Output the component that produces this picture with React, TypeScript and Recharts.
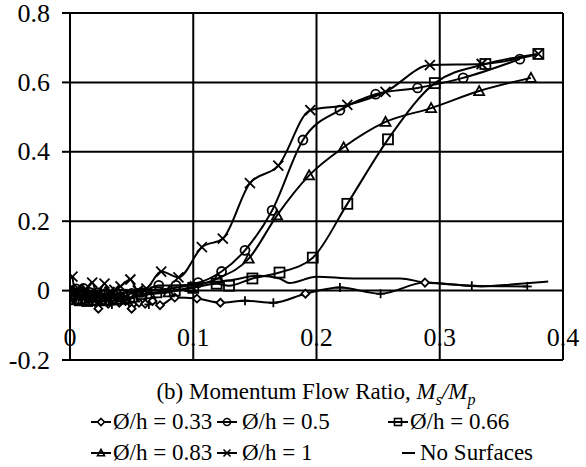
import React from 'react';
import { LineChart, Line, XAxis, YAxis, CartesianGrid, Legend } from 'recharts';

const FONT = '"Liberation Serif", "DejaVu Serif", serif';

const xTicks = [0, 0.1, 0.2, 0.3, 0.4];
const yTicks = [-0.2, 0, 0.2, 0.4, 0.6, 0.8];
const xTickLabels = ['0', '0.1', '0.2', '0.3', '0.4'];
const yTickLabels = ['-0.2', '0', '0.2', '0.4', '0.6', '0.8'];

// Ø/h = 0.33 : diamond-marked points and plus-marked points on the same curve
const s033Diamonds: [number, number][] = [
  [0.001, -0.008], [0.004, -0.02], [0.008, -0.012], [0.012, -0.028], [0.016, -0.018],
  [0.02, -0.032], [0.023, -0.052], [0.027, -0.03], [0.031, -0.038], [0.036, -0.028],
  [0.04, -0.035], [0.045, -0.03], [0.05, -0.052], [0.056, -0.035], [0.061, -0.038],
  [0.067, -0.03], [0.073, -0.042], [0.085, -0.02], [0.103, -0.023], [0.122, -0.035],
  [0.191, -0.009], [0.288, 0.023],
];
const s033Plus: [number, number][] = [
  [0.034, -0.04], [0.064, -0.04], [0.142, -0.029], [0.165, -0.035], [0.219, 0.009],
  [0.252, -0.009], [0.326, 0.014], [0.371, 0.012],
];
const s05: [number, number][] = [
  [0.001, 0.0], [0.003, -0.01], [0.005, 0.005], [0.007, -0.012], [0.009, -0.004],
  [0.011, 0.006], [0.013, -0.015], [0.016, -0.005], [0.019, -0.018], [0.022, -0.006],
  [0.025, -0.02], [0.029, -0.008], [0.033, -0.016], [0.038, -0.01], [0.044, -0.018],
  [0.05, -0.008], [0.058, -0.005], [0.072, 0.015], [0.086, 0.015], [0.104, 0.023],
  [0.123, 0.055], [0.142, 0.116], [0.164, 0.231], [0.189, 0.434], [0.219, 0.52],
  [0.248, 0.566], [0.282, 0.584], [0.319, 0.613], [0.365, 0.667],
];
const s066: [number, number][] = [
  [0.001, -0.015], [0.003, -0.025], [0.005, -0.01], [0.008, -0.028], [0.011, -0.012],
  [0.014, -0.03], [0.017, -0.018], [0.02, -0.026], [0.024, -0.014], [0.028, -0.028],
  [0.032, -0.015], [0.037, -0.024], [0.042, -0.012], [0.048, -0.02], [0.058, -0.01],
  [0.07, -0.005], [0.085, 0.0], [0.1, 0.008], [0.119, 0.02], [0.129, 0.014],
  [0.148, 0.035], [0.17, 0.052], [0.197, 0.095], [0.225, 0.25], [0.258, 0.436],
  [0.296, 0.598], [0.337, 0.653], [0.38, 0.682],
];
const s083: [number, number][] = [
  [0.001, -0.02], [0.003, -0.005], [0.006, -0.025], [0.009, -0.01], [0.012, -0.028],
  [0.015, -0.012], [0.018, -0.03], [0.022, -0.018], [0.026, -0.03], [0.03, -0.02],
  [0.035, -0.028], [0.04, -0.02], [0.046, -0.026], [0.052, -0.02], [0.065, -0.01],
  [0.08, -0.005], [0.098, 0.01], [0.12, 0.035], [0.145, 0.092], [0.168, 0.217],
  [0.194, 0.332], [0.222, 0.413], [0.256, 0.486], [0.293, 0.526], [0.332, 0.575],
  [0.374, 0.613],
];
const s1: [number, number][] = [
  [0.002, 0.04], [0.004, 0.0], [0.007, 0.005], [0.01, -0.008], [0.013, 0.004],
  [0.018, 0.023], [0.022, -0.01], [0.028, 0.02], [0.032, -0.004], [0.036, 0.002],
  [0.041, 0.012], [0.049, 0.032], [0.055, 0.0], [0.062, 0.006], [0.074, 0.055],
  [0.088, 0.038], [0.107, 0.125], [0.124, 0.15], [0.146, 0.31], [0.169, 0.36],
  [0.195, 0.52], [0.225, 0.535], [0.256, 0.573], [0.292, 0.65], [0.334, 0.653],
  [0.38, 0.682],
];
const sNone: [number, number][] = [
  [0.0, 0.0], [0.01, -0.01], [0.02, -0.005], [0.03, -0.012], [0.04, -0.008],
  [0.06, 0.0], [0.08, 0.005], [0.105, 0.02], [0.13, 0.03], [0.154, 0.043],
  [0.17, 0.035], [0.178, 0.022], [0.2, 0.04], [0.23, 0.035], [0.268, 0.035],
  [0.288, 0.023], [0.302, 0.02], [0.334, 0.012], [0.36, 0.018], [0.388, 0.026],
];

const seriesNames = ['Ø/h = 0.33', 'Ø/h = 0.5', 'Ø/h = 0.66', 'Ø/h = 0.83', 'Ø/h = 1', 'No Surfaces'];

const toPts = (a: [number, number][]) => a.map(([x, y]) => ({ x, y }));
const line033 = toPts([...s033Diamonds, ...s033Plus].sort((a, b) => a[0] - b[0]));

type Shape = 'diamond' | 'circle' | 'square' | 'triangle' | 'x' | 'plus';

const Marker = ({ shape, cx, cy, s, sw = 1.8 }: { shape: Shape; cx: number; cy: number; s: number; sw?: number }) => {
  const common = { fill: 'none', stroke: '#000', strokeWidth: sw };
  switch (shape) {
    case 'diamond':
      return <polygon points={`${cx},${cy - s} ${cx + s},${cy} ${cx},${cy + s} ${cx - s},${cy}`} {...common} fill="#fff" />;
    case 'circle':
      return <circle cx={cx} cy={cy} r={s} {...common} />;
    case 'square':
      return <rect x={cx - s} y={cy - s} width={2 * s} height={2 * s} {...common} />;
    case 'triangle':
      return <polygon points={`${cx},${cy - s} ${cx + s},${cy + s * 0.8} ${cx - s},${cy + s * 0.8}`} {...common} />;
    case 'x':
      return (
        <g {...common}>
          <line x1={cx - s} y1={cy - s} x2={cx + s} y2={cy + s} />
          <line x1={cx - s} y1={cy + s} x2={cx + s} y2={cy - s} />
        </g>
      );
    case 'plus':
      return (
        <g {...common}>
          <line x1={cx} y1={cy - s} x2={cx} y2={cy + s} />
          <line x1={cx - s} y1={cy} x2={cx + s} y2={cy} />
        </g>
      );
  }
  return null;
};

const dotOf = (shape: Shape, s: number) => (p: any) => {
  if (p.cx == null || p.cy == null) return <g key={`k-${p.index}`} />;
  return (
    <g key={`k-${shape}-${p.index}`}>
      <Marker shape={shape} cx={p.cx} cy={p.cy} s={s} />
    </g>
  );
};

const XTick = (props: any) => {
  const { x, y, payload } = props;
  const i = xTicks.indexOf(payload.value);
  return (
    <text x={x} y={y - 23} textAnchor="middle" dominantBaseline="central" fontSize={26} fontFamily={FONT} fill="#000">
      {i >= 0 ? xTickLabels[i] : payload.value}
    </text>
  );
};

const YTick = (props: any) => {
  const { x, y, payload } = props;
  const i = yTicks.indexOf(payload.value);
  return (
    <text x={x} y={y} textAnchor="end" dominantBaseline="central" fontSize={26} fontFamily={FONT} fill="#000">
      {i >= 0 ? yTickLabels[i] : payload.value}
    </text>
  );
};

const legendEntries: { name: string; shape: Shape | null; ml: number; tl: number; row: number }[] = [
  { name: seriesNames[0], shape: 'diamond', ml: 91, tl: 113, row: 0 },
  { name: seriesNames[1], shape: 'circle', ml: 217, tl: 242, row: 0 },
  { name: seriesNames[2], shape: 'square', ml: 388, tl: 410, row: 0 },
  { name: seriesNames[3], shape: 'triangle', ml: 91, tl: 113, row: 1 },
  { name: seriesNames[4], shape: 'x', ml: 217, tl: 242, row: 1 },
  { name: seriesNames[5], shape: null, ml: 402, tl: 420, row: 1 },
];

const LEG_TOP = 370;
const renderLegend = () => (
  <div style={{ position: 'relative', width: 586, height: 97, fontFamily: FONT, color: '#000' }}>
    <div style={{ position: 'absolute', left: 116, width: 400, top: 22 - 15, height: 30, lineHeight: '30px', textAlign: 'center', fontSize: 23, whiteSpace: 'nowrap' }}>
      (b) Momentum Flow Ratio, <i>M<sub style={{ fontSize: '70%', lineHeight: 0 }}>s</sub>/M<sub style={{ fontSize: '70%', lineHeight: 0 }}>p</sub></i>
    </div>
    {legendEntries.map((e, i) => {
      const cy = e.row === 0 ? 52 : 83;
      const w = e.shape ? 20 : 13;
      return (
        <React.Fragment key={i}>
          <svg style={{ position: 'absolute', left: e.ml, top: cy - 6 }} width={w} height={12}>
            <line x1={0} y1={6} x2={w} y2={6} stroke="#000" strokeWidth={2} />
            {e.shape && <Marker shape={e.shape} cx={w / 2} cy={6} s={3.5} sw={1.6} />}
          </svg>
          <span style={{ position: 'absolute', left: e.tl, top: cy - 15, height: 30, lineHeight: '30px', fontSize: 23, whiteSpace: 'nowrap' }}>
            {e.name}
          </span>
        </React.Fragment>
      );
    })}
  </div>
);

export default function App() {
  return (
    <div style={{ position: 'absolute', left: 0, top: 0 }}>
      <LineChart width={586} height={467} margin={{ top: 13, right: 23, bottom: 87, left: 8 }}>
        <CartesianGrid stroke="#000" strokeWidth={2} />
        <XAxis
          type="number"
          dataKey="x"
          domain={[0, 0.4]}
          ticks={xTicks}
          height={20}
          axisLine={false}
          tickLine={false}
          tickSize={0}
          tickMargin={0}
          tick={<XTick />}
          interval={0}
          allowDataOverflow
        />
        <YAxis
          type="number"
          domain={[-0.2, 0.8]}
          ticks={yTicks}
          width={62}
          axisLine={{ stroke: '#000', strokeWidth: 2 }}
          tickLine={{ stroke: '#000', strokeWidth: 2 }}
          tickSize={8}
          tickMargin={12}
          tick={<YTick />}
          interval={0}
          allowDataOverflow
        />
        <Legend layout="horizontal" verticalAlign="middle" align="center" content={renderLegend}
          wrapperStyle={{ top: LEG_TOP, left: 0, width: 586, height: 97 }} />
        <Line data={toPts(sNone)} dataKey="y" name={seriesNames[5]} type="monotone" stroke="#000" strokeWidth={2} dot={false} isAnimationActive={false} />
        <Line data={line033} dataKey="y" name={seriesNames[0]} type="monotone" stroke="#000" strokeWidth={2} dot={false} isAnimationActive={false} />
        <Line data={toPts(s033Diamonds)} dataKey="y" name="d033" legendType="none" stroke="none" dot={dotOf('diamond', 4)} isAnimationActive={false} />
        <Line data={toPts(s033Plus)} dataKey="y" name="p033" legendType="none" stroke="none" dot={dotOf('plus', 4.5)} isAnimationActive={false} />
        <Line data={toPts(s05)} dataKey="y" name={seriesNames[1]} type="monotone" stroke="#000" strokeWidth={2} dot={dotOf('circle', 4.5)} isAnimationActive={false} />
        <Line data={toPts(s066)} dataKey="y" name={seriesNames[2]} type="monotone" stroke="#000" strokeWidth={2} dot={dotOf('square', 5)} isAnimationActive={false} />
        <Line data={toPts(s083)} dataKey="y" name={seriesNames[3]} type="monotone" stroke="#000" strokeWidth={2} dot={dotOf('triangle', 5)} isAnimationActive={false} />
        <Line data={toPts(s1)} dataKey="y" name={seriesNames[4]} type="monotone" stroke="#000" strokeWidth={2} dot={dotOf('x', 5)} isAnimationActive={false} />
      </LineChart>
    </div>
  );
}
